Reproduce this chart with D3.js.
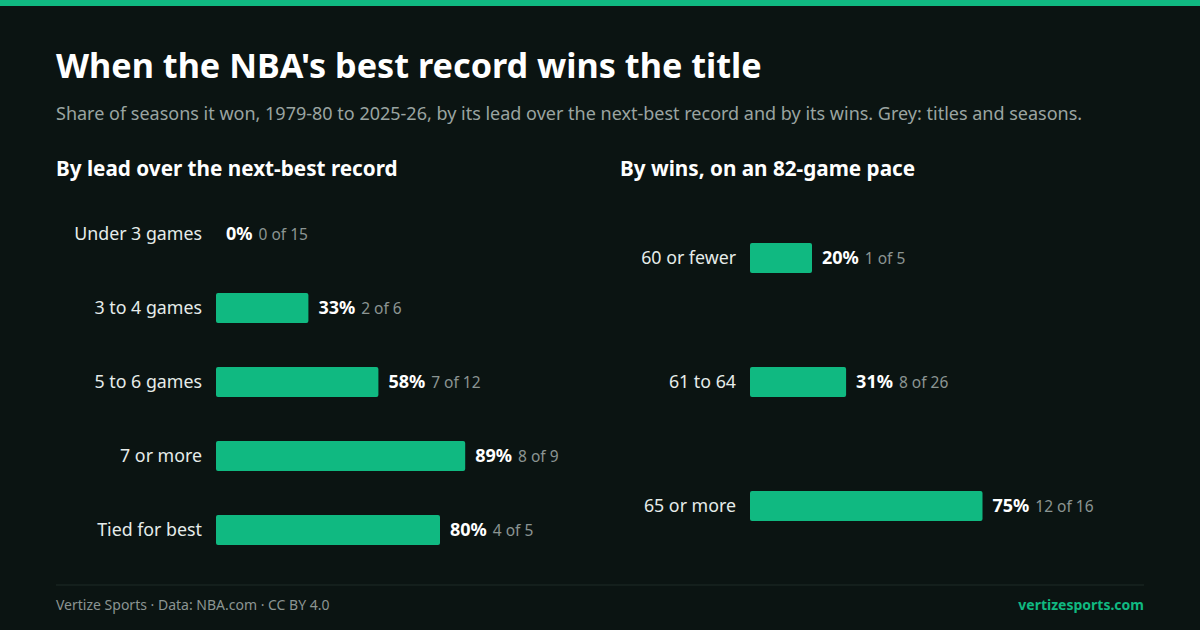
<!DOCTYPE html>
<html><head><meta charset="utf-8">
<script src="https://cdn.jsdelivr.net/npm/d3@7"></script>
<style>body{margin:0;background:#0b1412;}svg{display:block;font-family:"Noto Sans",sans-serif;}</style>
</head><body>
<svg id="c" width="1200" height="630"></svg>
<script>
const leadCats = ["Under 3 games","3 to 4 games","5 to 6 games","7 or more","Tied for best"];
const leadPct = [0,33,58,89,80];
const leadWon = [0,2,7,8,4];
const leadTotal = [15,6,12,9,5];
const winCats = ["60 or fewer","61 to 64","65 or more"];
const winPct = [20,31,75];
const winWon = [1,8,12];
const winTotal = [5,26,16];

const svg = d3.select("#c");
const green = "#10b981";
svg.append("rect").attr("width",1200).attr("height",630).attr("fill","#0b1412");
svg.append("rect").attr("width",1200).attr("height",6).attr("fill",green);
svg.append("text").attr("x",56).attr("y",78).attr("fill","#fff").attr("font-size",34.2).attr("font-weight",700).text("When the NBA's best record wins the title");
svg.append("text").attr("x",56).attr("y",120).attr("fill","#9aa4a1").attr("font-size",18).text("Share of seasons it won, 1979-80 to 2025-26, by its lead over the next-best record and by its wins. Grey: titles and seasons.");

function panel(title, tx, cats, pct, won, tot, x0, w100, yA, yB) {
  svg.append("text").attr("x",tx).attr("y",176).attr("fill","#fff").attr("font-size",20.7).attr("font-weight",700).text(title);
  const y = d3.scalePoint().domain(cats).range([yA,yB]);
  const x = d3.scaleLinear().domain([0,100]).range([x0,x0+w100]);
  const g = svg.append("g");
  cats.forEach((c,i)=>{
    const cy = y(c);
    g.append("rect").attr("x",x(0)).attr("y",cy-15).attr("width",x(pct[i])-x(0)).attr("height",30).attr("rx",2).attr("fill",green);
    g.append("text").attr("x",x0-14).attr("y",cy).attr("dy","0.35em").attr("text-anchor","end").attr("fill","#e6ecea").attr("font-size",17.8).text(c);
    const t = g.append("text").attr("x",x(pct[i])+10).attr("y",cy).attr("dy","0.35em").attr("font-size",18);
    t.append("tspan").attr("fill","#fff").attr("font-weight",700).text(pct[i]+"%");
    t.append("tspan").attr("fill","#8b9592").attr("font-size",15.5).attr("dx",6).text(won[i]+" of "+tot[i]);
  });
}
panel("By lead over the next-best record",56,leadCats,leadPct,leadWon,leadTotal,216,280,234,530);
panel("By wins, on an 82-game pace",620,winCats,winPct,winWon,winTotal,750,310,258,506);

svg.append("line").attr("x1",56).attr("x2",1144).attr("y1",585).attr("y2",585).attr("stroke","#1f2a27");
svg.append("text").attr("x",56).attr("y",610).attr("fill","#8b9592").attr("font-size",14).text("Vertize Sports · Data: NBA.com · CC BY 4.0");
svg.append("text").attr("x",1144).attr("y",610).attr("text-anchor","end").attr("fill",green).attr("font-size",14).attr("font-weight",700).text("vertizesports.com");
</script></body></html>
